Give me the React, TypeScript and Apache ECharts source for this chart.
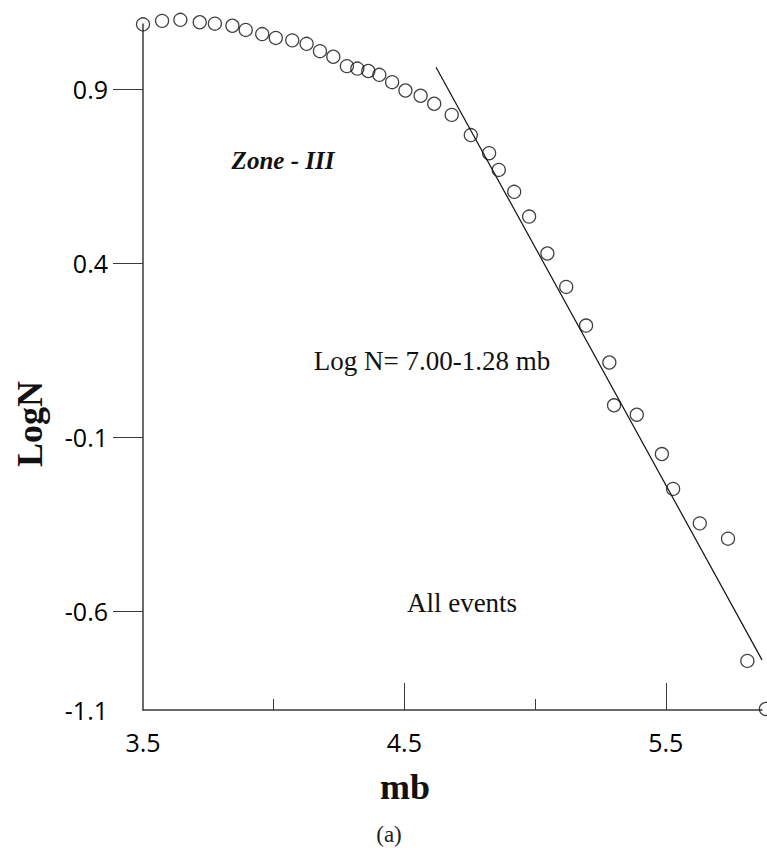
import React, { useEffect, useRef } from "react";
import * as echarts from "echarts";

// magnitude (mb) and LogN of the observed points
const mbValues = [
  3.5, 3.573, 3.643, 3.717, 3.775, 3.842, 3.893, 3.956, 4.008, 4.071,
  4.126, 4.177, 4.228, 4.28, 4.32, 4.362, 4.404, 4.453, 4.504, 4.562,
  4.614, 4.681, 4.754, 4.824, 4.861, 4.92, 4.977, 5.047, 5.119, 5.195,
  5.284, 5.302, 5.389, 5.485, 5.528, 5.63, 5.738, 5.812, 5.883,
];
const logNValues = [
  1.086, 1.096, 1.099, 1.092, 1.088, 1.082, 1.07, 1.058, 1.047, 1.04,
  1.03, 1.009, 0.993, 0.966, 0.959, 0.952, 0.941, 0.92, 0.896, 0.881,
  0.858, 0.826, 0.768, 0.716, 0.668, 0.605, 0.534, 0.428, 0.332, 0.221,
  0.115, -0.008, -0.035, -0.148, -0.248, -0.347, -0.391, -0.742, -0.88,
];
// fitted line end points as drawn
const fitMb = [4.621, 5.868];
const fitLogN = [0.963, -0.739];

const xLabelValues = [3.5, 4.5, 5.5];
const xMajorTicks = [4.5, 5.5];
const xMinorTicks = [4.0, 5.0];
const yTickValues = [-0.6, -0.1, 0.4, 0.9];
const yLabelValues = [-0.883, -0.6, -0.1, 0.4, 0.9];

const X_MIN = 3.5;
const X_MAX = 5.868;
const Y_MIN = -0.883;
const Y_MAX = 1.087;

export default function App() {
  const ref = useRef<HTMLDivElement>(null);
  useEffect(() => {
    if (!ref.current) return;
    const chart = echarts.init(ref.current, null, { renderer: "svg" });
    const axisColor = "#3a3a3a";
    const tickFont = { fontFamily: "Open Sans", fontSize: 25, color: "#000" };
    const serif = "Liberation Serif";
    chart.setOption({
      animation: false,
      backgroundColor: "#fff",
      grid: { left: 143, right: 5, top: 24, bottom: 138 },
      xAxis: [
        {
          type: "value",
          min: X_MIN,
          max: X_MAX,
          splitLine: { show: false },
          axisLine: { show: true, onZero: false, lineStyle: { color: axisColor, width: 1.5 } },
          axisTick: {
            show: true,
            inside: true,
            length: 27,
            customValues: xMajorTicks,
            lineStyle: { color: axisColor, width: 1 },
          },
          axisLabel: {
            show: true,
            customValues: xLabelValues,
            margin: 19,
            formatter: (v: number) => v.toFixed(1),
            ...tickFont,
          },
        },
        {
          type: "value",
          min: X_MIN,
          max: X_MAX,
          position: "bottom",
          splitLine: { show: false },
          axisLine: { show: false, onZero: false },
          axisTick: {
            show: true,
            inside: true,
            length: 11,
            customValues: xMinorTicks,
            lineStyle: { color: axisColor, width: 1 },
          },
          axisLabel: { show: false },
        },
      ],
      yAxis: {
        type: "value",
        min: Y_MIN,
        max: Y_MAX,
        splitLine: { show: false },
        axisLine: { show: true, onZero: false, lineStyle: { color: axisColor, width: 1.5 } },
        axisTick: {
          show: true,
          length: 30,
          customValues: yTickValues,
          lineStyle: { color: axisColor, width: 1 },
        },
        axisLabel: {
          show: true,
          customValues: yLabelValues,
          margin: 35,
          formatter: (v: number) => (v < -0.8 ? "-1.1" : v.toFixed(1)),
          ...tickFont,
        },
      },
      series: [
        {
          type: "line",
          data: fitMb.map((m, i) => [m, fitLogN[i]]),
          symbol: "none",
          lineStyle: { color: "#111", width: 1.2 },
          clip: false,
        },
        {
          type: "scatter",
          data: mbValues.map((m, i) => [m, logNValues[i]]),
          symbol: "circle",
          symbolSize: 13,
          clip: false,
          itemStyle: { color: "transparent", borderColor: "#111", borderWidth: 1.3 },
        },
      ],
      graphic: [
        {
          type: "text",
          x: 283,
          y: 160,
          style: {
            text: "Zone - III",
            font: `italic bold 25px "${serif}"`,
            fill: "#111",
            align: "center",
            verticalAlign: "middle",
          },
        },
        {
          type: "text",
          x: 432,
          y: 361,
          style: {
            text: "Log N= 7.00-1.28 mb",
            font: `27px "${serif}"`,
            fill: "#111",
            align: "center",
            verticalAlign: "middle",
          },
        },
        {
          type: "text",
          x: 462,
          y: 603,
          style: {
            text: "All events",
            font: `27px "${serif}"`,
            fill: "#111",
            align: "center",
            verticalAlign: "middle",
          },
        },
        {
          type: "text",
          x: 405,
          y: 787,
          style: {
            text: "mb",
            font: `bold 36px "${serif}"`,
            fill: "#111",
            align: "center",
            verticalAlign: "middle",
          },
        },
        {
          type: "text",
          x: 389,
          y: 834,
          style: {
            text: "(a)",
            font: `23px "${serif}"`,
            fill: "#222",
            align: "center",
            verticalAlign: "middle",
          },
        },
        {
          type: "text",
          x: 30,
          y: 424,
          rotation: Math.PI / 2,
          style: {
            text: "LogN",
            font: `bold 36px "${serif}"`,
            fill: "#111",
            align: "center",
            verticalAlign: "middle",
          },
        },
      ],
    });
    return () => chart.dispose();
  }, []);
  return (
    <div
      ref={ref}
      style={{ position: "absolute", left: 0, top: 0, width: 767, height: 848, background: "#fff" }}
    />
  );
}
